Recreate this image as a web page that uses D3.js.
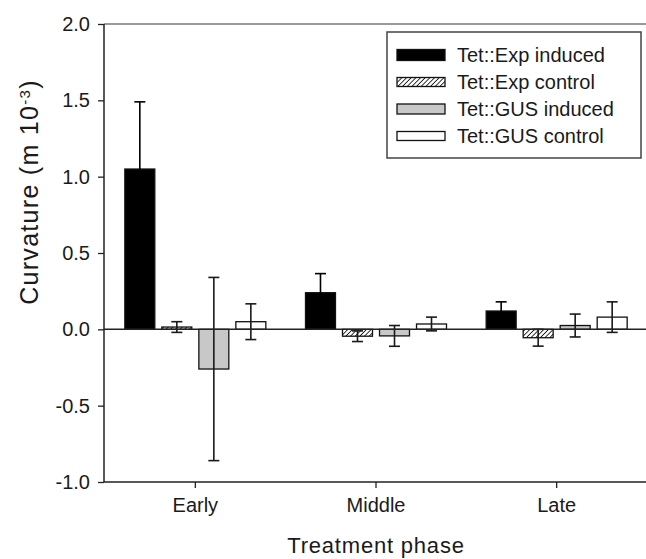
<!DOCTYPE html>
<html>
<head>
<meta charset="utf-8">
<script src="https://cdn.jsdelivr.net/npm/d3@7"></script>
<style>
  body { margin: 0; background: #fff; }
  text { font-family: Arial, "Liberation Sans", sans-serif; fill: #1a1a1a; }
</style>
</head>
<body>
<div id="chart"></div>
<script>
/* chart data */
var phases = ["Early", "Middle", "Late"];
var seriesNames = ["Tet::Exp induced", "Tet::Exp control", "Tet::GUS induced", "Tet::GUS control"];
var yTicks = [-1.0, -0.5, 0.0, 0.5, 1.0, 1.5, 2.0];

var expInduced = [1.05, 0.24, 0.12];
var expControl = [0.015, -0.045, -0.055];
var gusInduced = [-0.26, -0.043, 0.025];
var gusControl = [0.05, 0.035, 0.08];

var expInducedErr = [0.44, 0.125, 0.06];
var expControlErr = [0.035, 0.035, 0.055];
var gusInducedErr = [0.60, 0.068, 0.075];
var gusControlErr = [0.117, 0.045, 0.10];

var means = [expInduced, expControl, gusInduced, gusControl];
var errs = [expInducedErr, expControlErr, gusInducedErr, gusControlErr];

/* canvas */
var width = 646,
    height = 559;
var margin = { top: 24, right: 0, bottom: 77, left: 104 };

var svg = d3.select("#chart")
    .append("svg")
    .attr("width", width)
    .attr("height", height);

/* hatch pattern for the control bars */
var defs = svg.append("defs");
defs.append("pattern")
    .attr("id", "hatch")
    .attr("patternUnits", "userSpaceOnUse")
    .attr("width", 3.3)
    .attr("height", 3.3)
    .attr("patternTransform", "rotate(45)")
    .append("line")
    .attr("x1", 0).attr("y1", 0)
    .attr("x2", 0).attr("y2", 3.3)
    .attr("stroke", "#111")
    .attr("stroke-width", 1.7);

var fills = ["#000", "url(#hatch)", "#c8c8c8", "#fff"];

/* scales */
var x = d3.scaleBand()
    .domain(phases)
    .range([margin.left + 1, width + 1])
    .padding(0);

var x1 = d3.scaleBand()
    .domain(d3.range(seriesNames.length))
    .range([-70.5, 70.5])
    .paddingInner(0.19)
    .paddingOuter(0);

var y = d3.scaleLinear()
    .domain([-1, 2])
    .range([height - margin.bottom, margin.top]);

/* table of bars built from the arrays */
var bars = [];
phases.forEach(function (p, i) {
    means.forEach(function (m, s) {
        bars.push({ phase: p, s: s, v: m[i], e: errs[s][i] });
    });
});

function cx(d) { return x(d.phase) + x.bandwidth() / 2 + x1(d.s) + x1.bandwidth() / 2; }

/* bars */
svg.selectAll(".bar")
    .data(bars)
    .enter().append("rect")
    .attr("class", "bar")
    .attr("x", function (d) { return x(d.phase) + x.bandwidth() / 2 + x1(d.s); })
    .attr("width", x1.bandwidth())
    .attr("y", function (d) { return y(Math.max(0, d.v)); })
    .attr("height", function (d) { return Math.abs(y(d.v) - y(0)); })
    .attr("fill", function (d) { return fills[d.s]; })
    .attr("stroke", "#111")
    .attr("stroke-width", 1.3);

/* error bars */
var cap = 5.5;
var eb = svg.selectAll(".err")
    .data(bars)
    .enter().append("g")
    .attr("class", "err")
    .attr("stroke", function (d) { return d.s === 0 ? "#000" : "#1a1a1a"; })
    .attr("stroke-width", 1.6);

eb.append("line")
    .attr("x1", cx).attr("x2", cx)
    .attr("y1", function (d) { return y(d.v + d.e); })
    .attr("y2", function (d) { return y(d.v - d.e); });
eb.append("line")
    .attr("x1", function (d) { return cx(d) - cap; })
    .attr("x2", function (d) { return cx(d) + cap; })
    .attr("y1", function (d) { return y(d.v + d.e); })
    .attr("y2", function (d) { return y(d.v + d.e); });
eb.append("line")
    .attr("x1", function (d) { return cx(d) - cap; })
    .attr("x2", function (d) { return cx(d) + cap; })
    .attr("y1", function (d) { return y(d.v - d.e); })
    .attr("y2", function (d) { return y(d.v - d.e); });

/* zero line */
svg.append("line")
    .attr("x1", margin.left).attr("x2", width)
    .attr("y1", y(0)).attr("y2", y(0))
    .attr("stroke", "#222")
    .attr("stroke-width", 1.5);

/* top frame line */
svg.append("line")
    .attr("x1", margin.left).attr("x2", width)
    .attr("y1", y(2)).attr("y2", y(2))
    .attr("stroke", "#777")
    .attr("stroke-width", 1.5);

/* axes */
var fmt = function (d) { return d3.format(".1f")(d).replace("\u2212", "-"); };

var yAxis = d3.axisLeft(y)
    .tickValues(yTicks)
    .tickFormat(fmt)
    .tickSize(6)
    .tickPadding(8);

var gy = svg.append("g")
    .attr("transform", "translate(" + margin.left + ",0)")
    .call(yAxis);
gy.select(".domain").attr("d", "M0," + y(-1) + "V" + y(2)).attr("stroke", "#222").attr("stroke-width", 1.5);
gy.selectAll(".tick line").attr("stroke", "#222").attr("stroke-width", 1.3);
gy.selectAll(".tick text")
    .attr("font-size", 20)
    .style("font-family", "Arial, 'Liberation Sans', sans-serif")
    .attr("fill", "#1a1a1a");

var xAxis = d3.axisBottom(x)
    .tickSize(6)
    .tickPadding(10);

var gx = svg.append("g")
    .attr("transform", "translate(0," + y(-1) + ")")
    .call(xAxis);
gx.select(".domain").attr("d", "M" + margin.left + ",0H" + width).attr("stroke", "#222").attr("stroke-width", 1.5);
gx.selectAll(".tick line").attr("stroke", "#222").attr("stroke-width", 1.3);
gx.selectAll(".tick text")
    .attr("font-size", 20)
    .style("font-family", "Arial, 'Liberation Sans', sans-serif")
    .attr("fill", "#1a1a1a");

/* axis titles */
svg.append("text")
    .attr("x", x("Middle") + x.bandwidth() / 2)
    .attr("y", 553)
    .attr("text-anchor", "middle")
    .attr("font-size", 22)
    .attr("letter-spacing", 0.8)
    .text("Treatment phase");

var yt = svg.append("text")
    .attr("transform", "translate(38," + 192 + ") rotate(-90)")
    .attr("text-anchor", "middle")
    .attr("font-size", 25)
    .attr("letter-spacing", 1.3);
yt.append("tspan").text("Curvature (m 10");
yt.append("tspan").attr("font-size", 15).attr("baseline-shift", "super").text("-3");
yt.append("tspan").text(")");

/* legend */
var lg = svg.append("g");
lg.append("rect")
    .attr("x", 387).attr("y", 32)
    .attr("width", 254).attr("height", 126)
    .attr("fill", "#fff")
    .attr("stroke", "#444")
    .attr("stroke-width", 1.5);

var swH = [11, 9, 10, 9];

var items = lg.selectAll(".item")
    .data(seriesNames)
    .enter().append("g")
    .attr("class", "item")
    .attr("transform", function (d, i) { return "translate(397," + (55 + i * 27) + ")"; });

items.append("rect")
    .attr("x", 0)
    .attr("y", function (d, i) { return -swH[i] / 2; })
    .attr("width", 48)
    .attr("height", function (d, i) { return swH[i]; })
    .attr("fill", function (d, i) { return fills[i]; })
    .attr("stroke", "#111")
    .attr("stroke-width", 1.3);

items.append("text")
    .attr("x", 60)
    .attr("y", 7)
    .attr("font-size", 20)
    .text(function (d) { return d; });
</script>
</body>
</html>
